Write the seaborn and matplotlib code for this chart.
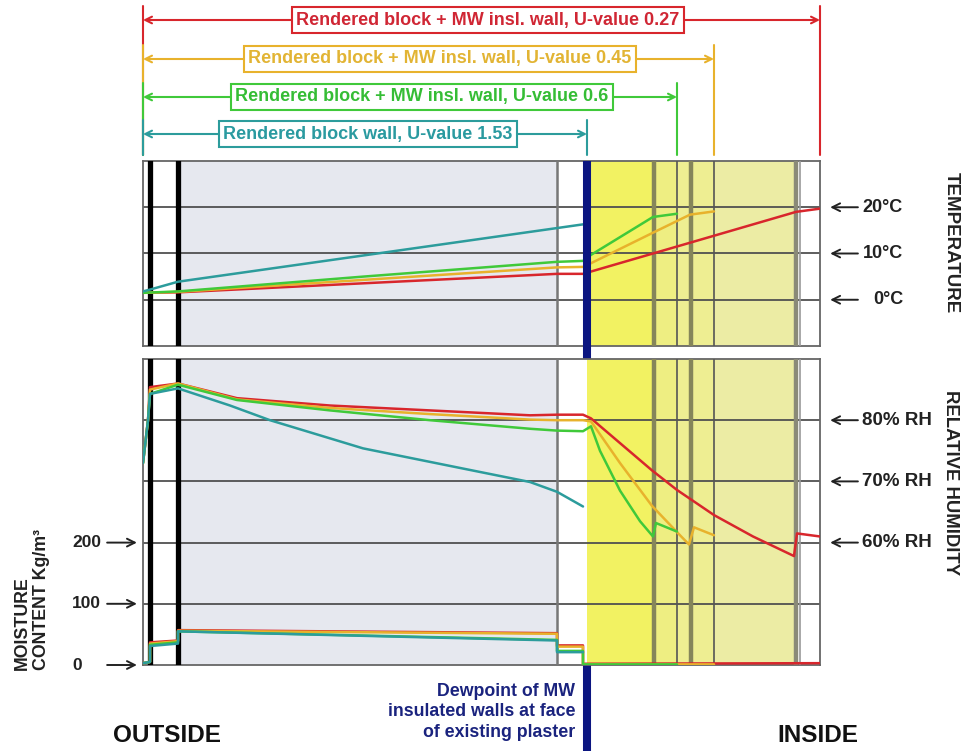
"""
Temperature, RH and moisture profile through a rendered block wall,
with and without mineral wool internal insulation.
Saves out.png
"""

import matplotlib
matplotlib.use("Agg")
import matplotlib.pyplot as plt
import matplotlib.transforms as mtransforms
import pandas as pd
import seaborn as sns

# ---- data ---------------------------------------------------------------
# position through the wall (0 = outside face, 677 = inside face)
SERIES = ["U 0.27", "U 0.45", "U 0.6", "U 1.53"]
COLORS = ["#d8262c", "#e8b22c", "#40c93a", "#2c9c9c"]
WALL_LABELS = [
    "Rendered block + MW insl. wall, U-value 0.27",
    "Rendered block + MW insl. wall, U-value 0.45",
    "Rendered block + MW insl. wall, U-value 0.6",
    "Rendered block wall, U-value 1.53",
]
WALL_END = [677, 571, 534, 444]

# layer boundaries
RENDER_EDGE = 6.5
BLOCK_START = 35
BLOCK_END = 414
DEWPOINT = 444
INSUL_EDGES = [511, 534, 548, 571, 653]

# temperature, degC
temp_x_027 = [0, 35, 414, 440, 448, 653, 677]
temp_027 = [1.5, 1.6, 5.6, 5.6, 6.1, 19.0, 19.7]
temp_x_045 = [0, 35, 414, 440, 448, 510, 547, 571]
temp_045 = [1.5, 1.7, 7.0, 7.1, 7.9, 14.5, 18.4, 19.1]
temp_x_06 = [0, 35, 220, 414, 440, 448, 510, 534]
temp_06 = [1.5, 1.8, 5.0, 8.2, 8.4, 9.7, 17.9, 18.6]
temp_x_153 = [0, 7, 35, 414, 440]
temp_153 = [1.8, 2.2, 3.9, 15.5, 16.3]

# relative humidity, %
rh_x_027 = [0, 5, 7, 35, 94, 187, 287, 387, 414, 440, 448, 509, 534, 571, 610, 651, 654, 677]
rh_027 = [73, 80, 85.4, 86.0, 83.6, 82.4, 81.6, 80.8, 80.9, 80.9, 80.3, 71.8, 68.6, 64.5, 61.0, 57.8, 61.5, 61.0]
rh_x_045 = [0, 5, 7, 35, 94, 187, 287, 387, 414, 440, 448, 477, 509, 537, 546, 551, 571]
rh_045 = [73, 80, 85.0, 86.0, 83.4, 82.0, 81.0, 80.1, 80.0, 80.0, 79.8, 73.0, 66.0, 61.2, 59.7, 62.5, 61.2]
rh_x_06 = [0, 5, 7, 35, 94, 187, 287, 387, 414, 440, 448, 457, 477, 497, 510, 513, 534]
rh_06 = [73, 80, 84.3, 85.8, 83.3, 81.6, 80.0, 78.6, 78.3, 78.2, 79.0, 75.0, 68.5, 63.5, 61.0, 63.2, 61.8]
rh_x_153 = [0, 5, 7, 35, 87, 127, 220, 320, 387, 414, 440]
rh_153 = [73, 80, 84.3, 85.2, 82.4, 80.0, 75.4, 72.1, 69.9, 68.3, 65.9]

# moisture content, kg/m3
mc_x_027 = [0, 7, 7, 35, 35, 414, 414, 440, 440, 677]
mc_027 = [3, 5, 37, 40, 57, 52, 32, 32, 2, 3]
mc_x_045 = [0, 7, 7, 35, 35, 414, 414, 440, 440, 571]
mc_045 = [3, 5, 35, 39, 56, 51, 30, 30, 1, 1]
mc_x_06 = [0, 7, 7, 35, 35, 414, 414, 440, 440, 534]
mc_06 = [3, 5, 33, 37, 55, 41, 23, 23, 1, 1]
mc_x_153 = [0, 7, 7, 35, 35, 414, 414, 440]
mc_153 = [3, 5, 31, 35, 55, 40, 21, 21]


def long_frame(xs, ys):
    rows = []
    for name, x, y in zip(SERIES, xs, ys):
        for xi, yi in zip(x, y):
            rows.append((name, xi, yi))
    return pd.DataFrame(rows, columns=["series", "pos", "val"])


temp_df = long_frame([temp_x_027, temp_x_045, temp_x_06, temp_x_153],
                     [temp_027, temp_045, temp_06, temp_153])
rh_df = long_frame([rh_x_027, rh_x_045, rh_x_06, rh_x_153],
                   [rh_027, rh_045, rh_06, rh_153])
mc_df = long_frame([mc_x_027, mc_x_045, mc_x_06, mc_x_153],
                   [mc_027, mc_045, mc_06, mc_153])

# ---- figure -------------------------------------------------------------
sns.set_theme(style="white")
plt.rcParams["font.family"] = ["Liberation Sans", "DejaVu Sans"]

W, H = 969, 751
fig = plt.figure(figsize=(W / 100, H / 100), dpi=100)


def px_axes(x0, y0, x1, y1):
    return fig.add_axes([x0 / W, 1 - y1 / H, (x1 - x0) / W, (y1 - y0) / H])


ax_br = px_axes(143, 0, 820, 160)
ax_t = px_axes(143, 161, 820, 346)
ax_b = px_axes(143, 359, 820, 665)
ax_m = ax_b.twinx()

palette = dict(zip(SERIES, COLORS))
GRID = "#505050"
INK = "#222222"


def wall_layers(ax):
    ax.axvspan(BLOCK_START, BLOCK_END, color="#e6e8ef", lw=0, zorder=0)
    ax.axvspan(DEWPOINT, INSUL_EDGES[0], color="#f2f262", lw=0, zorder=0)
    ax.axvspan(INSUL_EDGES[0], INSUL_EDGES[1], color="#eeee82", lw=0, zorder=0)
    ax.axvspan(INSUL_EDGES[1], INSUL_EDGES[3], color="#eeee92", lw=0, zorder=0)
    ax.axvspan(INSUL_EDGES[3], INSUL_EDGES[4], color="#ececa4", lw=0, zorder=0)
    ax.axvline(RENDER_EDGE, color="black", lw=3.8, zorder=3)
    ax.axvline(BLOCK_START, color="black", lw=3.8, zorder=3)
    ax.axvline(BLOCK_END, color="#777777", lw=1.8, zorder=3)
    for xe, lw, c in zip(INSUL_EDGES, [3.2, 1.2, 3.2, 1.2, 3.2],
                         ["#85855a", "#555555", "#85855a", "#555555", "#8a8a78"]):
        ax.axvline(xe, color=c, lw=lw, zorder=3)
    ax.axvline(657, color="#9a9a9a", lw=1.2, zorder=3)
    ax.set_xlim(0, 677)
    ax.set_xticks([])
    ax.set_yticks([])
    for s in ax.spines.values():
        s.set_color("#666666")
        s.set_linewidth(1.3)


# temperature panel
wall_layers(ax_t)
ax_t.set_ylim(-10, 30)
for g in [0, 10, 20]:
    ax_t.axhline(g, color=GRID, lw=1.3, zorder=2)
sns.lineplot(data=temp_df, x="pos", y="val", hue="series", palette=palette,
             estimator=None, sort=False, legend=False, lw=1.8, ax=ax_t, zorder=4)
ax_t.set_xlabel("")
ax_t.set_ylabel("")
ax_t.set_xticks([])
ax_t.set_yticks([])

# RH / moisture panel
wall_layers(ax_b)
ax_b.set_ylim(40, 90)
for g in [50, 60, 70, 80]:
    ax_b.axhline(g, color=GRID, lw=1.3, zorder=2)
sns.lineplot(data=rh_df, x="pos", y="val", hue="series", palette=palette,
             estimator=None, sort=False, legend=False, lw=1.8, ax=ax_b, zorder=4)
ax_b.set_xlabel("")
ax_b.set_ylabel("")
ax_b.set_xticks([])
ax_b.set_yticks([])

sns.lineplot(data=mc_df, x="pos", y="val", hue="series", palette=palette,
             estimator=None, sort=False, legend=False, lw=1.8, ax=ax_m)
ax_m.set_ylim(0, 500)
ax_m.set_xlim(0, 677)
ax_m.set_ylabel("")
ax_m.set_yticks([])
for s in ax_m.spines.values():
    s.set_visible(False)

# right-hand scale labels
arrow_kw = dict(arrowstyle="->", color=INK, lw=1.4, mutation_scale=14,
                shrinkA=0, shrinkB=0)
for val, lab in zip([20, 10, 0], ["20°C", "10°C", "0°C"]):
    ax_t.annotate("", xy=(1.015, val), xycoords=("axes fraction", "data"),
                  xytext=(1.056, val), textcoords=("axes fraction", "data"),
                  arrowprops=arrow_kw, annotation_clip=False)
    ax_t.text(1.1226, val, lab, transform=ax_t.get_yaxis_transform(),
              ha="right", va="center", fontsize=13, fontweight="bold", color=INK)
for val, lab in zip([80, 70, 60], ["80% RH", "70% RH", "60% RH"]):
    ax_b.annotate("", xy=(1.015, val), xycoords=("axes fraction", "data"),
                  xytext=(1.056, val), textcoords=("axes fraction", "data"),
                  arrowprops=arrow_kw, annotation_clip=False)
    ax_b.text(1.062, val, lab, transform=ax_b.get_yaxis_transform(),
              ha="left", va="center", fontsize=13.5, fontweight="bold", color=INK)

fig.text(951 / W, 1 - 243 / H, "TEMPERATURE", rotation=270, ha="center", va="center",
         fontsize=13.5, fontweight="bold", color=INK)
fig.text(951 / W, 1 - 483 / H, "RELATIVE HUMIDITY", rotation=270, ha="center", va="center",
         fontsize=13.3, fontweight="bold", color=INK)

# left-hand moisture scale
for val, lab in zip([200, 100, 0], ["200", "100", "0"]):
    ax_m.annotate("", xy=(-0.009, val), xycoords=("axes fraction", "data"),
                  xytext=(-0.053, val), textcoords=("axes fraction", "data"),
                  arrowprops=arrow_kw, annotation_clip=False)
    fig.text(72 / W, ax_m.transData.transform((0, val))[1] / H, lab,
             ha="left", va="center", fontsize=12.5, fontweight="bold", color=INK)
fig.text(32 / W, 1 - 670 / H, "MOISTURE\nCONTENT Kg/m³", rotation=90, ha="center",
         va="bottom", multialignment="left", fontsize=12.8, fontweight="bold",
         color=INK, linespacing=1.2)

# dewpoint marker through both panels
blend = mtransforms.blended_transform_factory(ax_t.transData, fig.transFigure)
ax_t.plot([DEWPOINT, DEWPOINT], [1 - 161 / H, 0], color="#0b1580", lw=5.8,
          transform=blend, clip_on=False, zorder=10, solid_capstyle="butt")
fig.text(575 / W, 1 - 712 / H, "Dewpoint of MW\ninsulated walls at face\nof existing plaster",
         ha="right", va="center", multialignment="right", fontsize=12.8,
         fontweight="bold", color="#1a237e", linespacing=1.3)
fig.text(167 / W, 1 - 735 / H, "OUTSIDE", ha="center", va="center",
         fontsize=17.5, fontweight="bold", color="#111111")
fig.text(818 / W, 1 - 735 / H, "INSIDE", ha="center", va="center",
         fontsize=17.5, fontweight="bold", color="#111111")

# wall-thickness brackets
ax_br.set_xlim(0, 677)
ax_br.set_ylim(160, 0)
ax_br.axis("off")
bracket_y = [20, 59, 97, 134]
label_x = [345, 297, 279, 225]
text_colors = ["#d02634", "#e2b434", "#35bd35", "#2a9aa0"]
for lab, end, c, tc, y, lx in zip(WALL_LABELS, WALL_END, COLORS, text_colors,
                                  bracket_y, label_x):
    ax_br.plot([0, 0], [y - 14, 155], color=c, lw=1.5, clip_on=False)
    ax_br.plot([end, end], [y - 14, 155], color=c, lw=1.5, clip_on=False)
    ax_br.annotate("", xy=(0, y), xytext=(end, y),
                   arrowprops=dict(arrowstyle="<->", color=c, lw=1.5,
                                   mutation_scale=12, shrinkA=0, shrinkB=0))
    ax_br.text(lx, y, lab, ha="center", va="center", fontsize=13,
               fontweight="bold", color=tc,
               bbox=dict(boxstyle="square,pad=0.25", fc="white", ec=c, lw=1.5))

fig.savefig("out.png", dpi=100)
